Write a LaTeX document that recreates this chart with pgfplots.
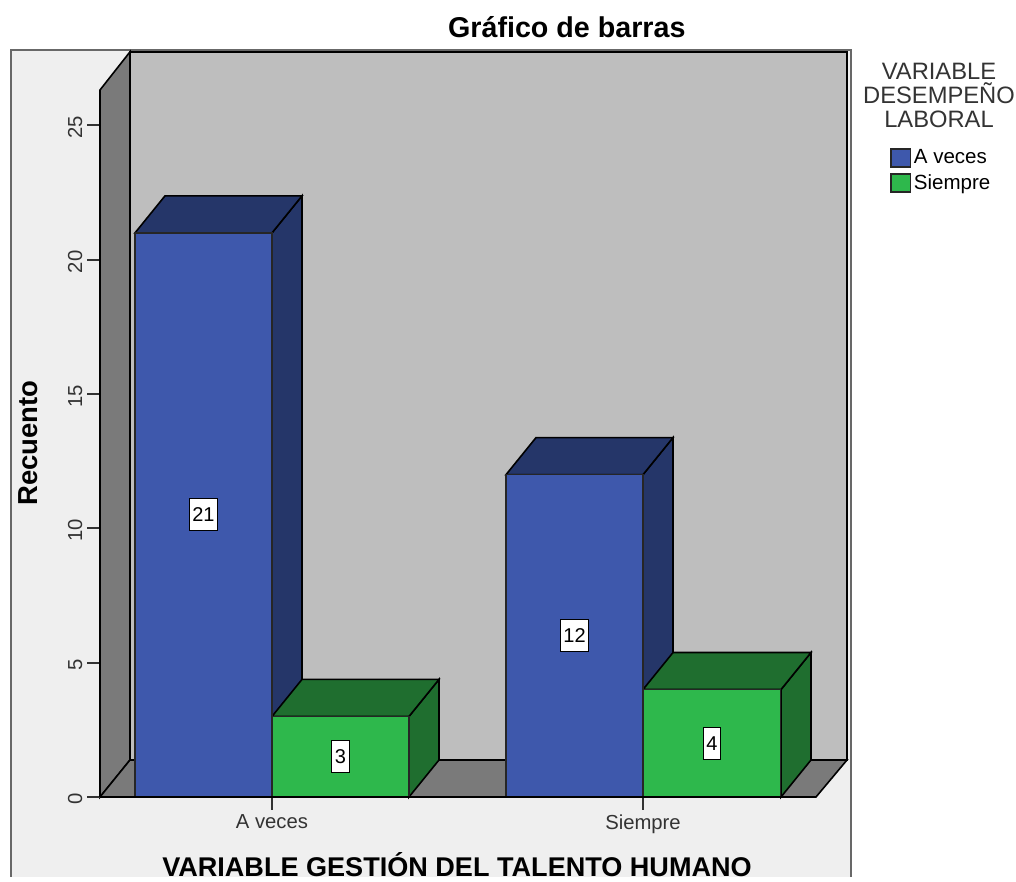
\documentclass[border=0pt]{standalone}
\usepackage{fontspec}
\setmainfont{Liberation Sans}
\usepackage{pgfplots}
\pgfplotsset{compat=1.18}
\definecolor{panel}{HTML}{EFEFEF}
\definecolor{wall}{HTML}{BEBEBE}
\definecolor{side}{HTML}{7A7A7A}
\definecolor{blueF}{HTML}{3E58AC}
\definecolor{blueD}{HTML}{253669}
\definecolor{greenF}{HTML}{2EB84C}
\definecolor{greenD}{HTML}{1F6E2F}
\definecolor{txt}{HTML}{333333}
\begin{document}
\begin{tikzpicture}
\begin{axis}[
  scale only axis,
  width=537pt, height=530.25pt,
  xmin=100, xmax=816, ymin=0, ymax=26.32,
  clip=false, axis on top,
  axis x line*=bottom, axis y line*=left,
  axis line style={black, line width=1.5pt, -},
  xtick={272,643}, xticklabels={A veces,Siempre},
  ytick={0,5,10,15,20,25},
  tick align=outside, major tick length=9.75pt,
  tick style={txt, line width=1.5pt},
  /pgf/number format/assume math mode=true,
  ticklabel style={font=\fontsize{15.2}{18}\selectfont, text=txt},
  yticklabel style={rotate=90, anchor=south, xshift=-1.5pt},
  title={Gráfico de barras},
  title style={at={(0.652,1.089)}, anchor=center, yshift=-6pt, font=\bfseries\fontsize{21.5}{25}\selectfont},
  xlabel={VARIABLE GESTIÓN DEL TALENTO HUMANO},
  xlabel style={at={(0.4986,-0.096)}, anchor=center, font=\bfseries\fontsize{20.3}{24}\selectfont},
  ylabel={Recuento},
  ylabel style={at={(-0.1006,0.5007)}, anchor=center, font=\bfseries\fontsize{20.6}{24}\selectfont},
  legend style={at={(axis cs:890,24.2)}, anchor=north west, draw=none, fill=none,
    font=\fontsize{15.4}{18}\selectfont, inner sep=0pt, row sep=2.5pt,
    /tikz/every even column/.append style={column sep=2pt}},
  legend cell align=left,
  legend image code/.code={\draw[#1] (0pt,-6.8pt) rectangle (14.5pt,6.8pt);},
  bar width=102.75pt,
]
% page extent
\addplot[draw=none, forget plot] coordinates {(0,29.67) (1016,-2.978)};
% panel and frame
\addplot[draw=none, fill=panel, forget plot] coordinates {(11,27.81) (851,27.81) (851,-2.978) (11,-2.978)} --cycle;
\addplot[draw=side!85!black, line width=1.5pt, forget plot] coordinates {(11,-2.978) (11,27.81) (851,27.81) (851,-2.978)};
% walls and floor
\addplot[fill=wall, draw=black, line width=1.5pt, forget plot] coordinates {(130,27.74) (847,27.74) (847,1.378) (130,1.378)} --cycle;
\addplot[fill=side, draw=black, line width=1.2pt, forget plot] coordinates {(100,0) (100,26.32) (130,27.74) (130,1.378)} --cycle;
\addplot[fill=side, draw=black, line width=1.2pt, forget plot] coordinates {(100,0) (130,1.378) (847,1.378) (816,0)} --cycle;
% depth faces
\addplot[fill=blueD, draw=black, line width=1.2pt, forget plot] coordinates {(272,0) (272,21) (302,22.378) (302,1.378)} --cycle;
\addplot[fill=blueD, draw=black, line width=1.2pt, forget plot] coordinates {(135,21) (165,22.378) (302,22.378) (272,21)} --cycle;
\addplot[fill=greenD, draw=black, line width=1.2pt, forget plot] coordinates {(409,0) (409,3) (439,4.378) (439,1.378)} --cycle;
\addplot[fill=greenD, draw=black, line width=1.2pt, forget plot] coordinates {(272,3) (302,4.378) (439,4.378) (409,3)} --cycle;
\addplot[fill=blueD, draw=black, line width=1.2pt, forget plot] coordinates {(643,0) (643,12) (673,13.378) (673,1.378)} --cycle;
\addplot[fill=blueD, draw=black, line width=1.2pt, forget plot] coordinates {(506,12) (536,13.378) (673,13.378) (643,12)} --cycle;
\addplot[fill=greenD, draw=black, line width=1.2pt, forget plot] coordinates {(781,0) (781,4) (811,5.378) (811,1.378)} --cycle;
\addplot[fill=greenD, draw=black, line width=1.2pt, forget plot] coordinates {(643,4) (673,5.378) (811,5.378) (781,4)} --cycle;
% front faces
\addplot[ybar, bar shift=0pt, fill=blueF, draw=black!85, line width=1.2pt] coordinates {(203.5,21) (574.5,12)};
\addlegendentry{A veces}
\addplot[ybar, bar shift=0pt, fill=greenF, draw=black!85, line width=1.2pt] coordinates {(340.5,3) (712,4)};
\addlegendentry{Siempre}
% value labels
\addplot[draw=none, forget plot, nodes near coords, point meta=explicit symbolic,
  every node near coord/.append style={anchor=center, fill=white, draw=black, line width=0.8pt,
    font=\fontsize{15}{18}\selectfont, text=black, inner xsep=2.5pt, inner ysep=1pt, minimum height=24pt}]
  coordinates {(203.5,10.5)[21] (340.5,1.5)[3] (574.5,6)[12] (712,2)[4]};
% legend heading
\node[align=center, inner sep=0pt, font=\fontsize{17.8}{18}\selectfont, text=txt] at (axis cs:939,26.1) {VARIABLE\\DESEMPEÑO\\LABORAL};
\end{axis}
\end{tikzpicture}
\end{document}
